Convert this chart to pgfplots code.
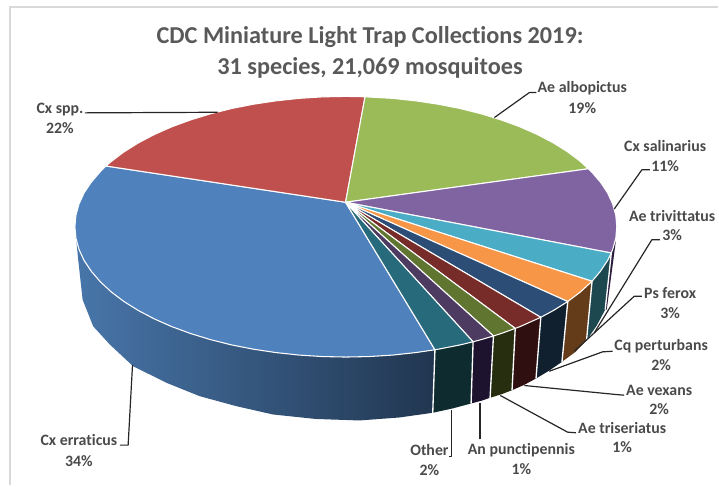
\documentclass[border=0pt]{standalone}
\usepackage{fontspec}
\setmainfont{Carlito}[Ligatures=NoCommon]
\usepackage{pgfplots}
\pgfplotsset{compat=1.18}
\definecolor{tlab}{HTML}{4A4A4A}
\definecolor{ttitle}{HTML}{595959}
\definecolor{frameC}{HTML}{D9D9D9}
\definecolor{wBlueL}{HTML}{4876AA}
\definecolor{wBlueR}{HTML}{213650}
\definecolor{wTeal}{HTML}{0E2C30}
\definecolor{wPurple}{HTML}{1D132E}
\definecolor{wOlive}{HTML}{272E10}
\definecolor{wRed}{HTML}{2F0F0F}
\definecolor{wNavy}{HTML}{11202F}
\definecolor{wOrange}{HTML}{653C1A}
\definecolor{wCyan}{HTML}{1E4850}
\definecolor{wViolet}{HTML}{2A1D3D}
\definecolor{cBlue}{HTML}{4F81BD}
\definecolor{cRed}{HTML}{C0504D}
\definecolor{cGreen}{HTML}{9BBB59}
\definecolor{cViolet}{HTML}{8064A2}
\definecolor{cCyan}{HTML}{4BACC6}
\definecolor{cOrange}{HTML}{F79646}
\definecolor{cNavy}{HTML}{2C4D75}
\definecolor{cMaroon}{HTML}{772C2A}
\definecolor{cOlive}{HTML}{5F7530}
\definecolor{cPurple}{HTML}{4D3B62}
\definecolor{cTeal}{HTML}{276A7C}
\tikzset{lab/.style={font=\bfseries\fontsize{11.9}{13}\selectfont,text=tlab,inner sep=0pt,anchor=center},
  ttl/.style={font=\bfseries\fontsize{18.2}{22}\selectfont,text=ttitle,inner sep=0pt,anchor=center},
  lead/.style={draw=black!85,line width=0.9pt,line join=round},
  top/.style={draw=white,line width=0.8pt,line join=round,fill=#1},
  wall/.style={draw=none,fill=#1},
  seam/.style={draw=white,line width=1pt}}
\begin{document}
\begin{tikzpicture}
\begin{axis}[
  scale only axis, width=539.25pt, height=364.5pt,
  xmin=0, xmax=719, ymin=0, ymax=486, y dir=reverse,
  hide axis, clip=false,
]
% page extent
\addplot[draw=none] coordinates {(0,0) (719,486)};
% chart frame
\addplot[draw=frameC,line width=1.4pt] coordinates {(10,486) (10,7) (719,7)};

% side walls of the slices
\addplot[draw=none,left color=wBlueL,right color=wBlueR] coordinates {
 (435.5,350.2)(416.5,353)(393.4,355.5)(370,357)(346.3,357.5)(322.6,357)(299.2,355.5)(276.1,353)(253.5,349.6)(231.6,345.3)(210.6,340)(190.7,333.9)(171.9,327)(154.5,319.3)(138.5,310.9)(124.1,301.9)(111.4,292.3)(100.4,282.1)(91.4,271.6)(84.2,260.8)(79.1,249.7)(76,238.4)(75,227)
 (78.3,260)(82.7,300)(93.3,326.7)(110,345)(133.3,366.7)(166.7,383.3)(200,396.7)(236.7,406.7)(273.3,415)(316,419.5)(360,421)(400,418)(433.3,413.3)};
\addplot[wall=wTeal] coordinates {(473.7,342.2)(461,345.3)(439.1,349.6)(435.5,350.2)(433.3,413.3)(453,409)(471.7,404)};
\addplot[wall=wPurple] coordinates {(494.1,336.4)(482,340)(473.7,342.2)(471.7,404)(481.5,401.4)(490.7,398.3)};
\addplot[wall=wOlive] coordinates {(515.9,328.8)(501.9,333.9)(494.1,336.4)(490.7,398.3)(502,394.8)(512.7,390.7)};
\addplot[wall=wRed] coordinates {(541.5,317.7)(520.7,327)(515.9,328.8)(512.7,390.7)(525,385.3)(536.7,379)};
\addplot[wall=wNavy] coordinates {(568.5,301.9)(554.1,310.9)(541.5,317.7)(536.7,379)(550,371)(562.7,362.3)};
\addplot[wall=wOrange] coordinates {(592.8,281.6)(581.2,292.3)(568.5,301.9)(562.7,362.3)(576,352.5)(587.3,340.7)};
\addplot[wall=wCyan] coordinates {(612.1,253.3)(608.4,260.8)(601.2,271.6)(592.8,281.6)(587.3,340.7)(597.5,326)(606,310)};
\addplot[wall=wViolet] coordinates {(616.7,241)(612.1,253.3)(606,310)(607.5,310)};
% white seams between the walls
\addplot[seam] coordinates {(435.5,350.2)(433.3,413.3)};
\addplot[seam] coordinates {(473.7,342.2)(471.7,404)};
\addplot[seam] coordinates {(494.1,336.4)(490.7,398.3)};
\addplot[seam] coordinates {(515.9,328.8)(512.7,390.7)};
\addplot[seam] coordinates {(541.5,317.7)(536.7,379)};
\addplot[seam] coordinates {(568.5,301.9)(562.7,362.3)};
\addplot[seam] coordinates {(592.8,281.6)(587.3,340.7)};
\addplot[seam] coordinates {(612.1,253.3)(606,310)};

% top faces of the slices
\addplot[top=cBlue] coordinates {(346,202.5)(435.5,350.2)(416.5,353)(393.4,355.5)(370,357)(346.3,357.5)(322.6,357)(299.2,355.5)(276.1,353)(253.5,349.6)(231.6,345.3)(210.6,340)(190.7,333.9)(171.9,327)(154.5,319.3)(138.5,310.9)(124.1,301.9)(111.4,292.3)(100.4,282.1)(91.4,271.6)(84.2,260.8)(79.1,249.7)(76,238.4)(75,227)(76,215.6)(79.1,204.3)(84.2,193.2)(91.4,182.4)(100.4,171.9)(106,166.2)(346,202.5)};
\addplot[top=cRed] coordinates {(346,202.5)(106,166.2)(111.4,161.7)(124.1,152.1)(138.5,143.1)(154.5,134.7)(171.9,127)(190.7,120.1)(210.6,114)(231.6,108.7)(253.5,104.4)(276.1,101)(299.2,98.5)(322.6,97)(346.3,96.5)(365.5,96.9)(346,202.5)};
\addplot[top=cGreen] coordinates {(346,202.5)(365.5,96.9)(393.4,98.5)(416.5,101)(439.1,104.4)(461,108.7)(482,114)(501.9,120.1)(520.7,127)(538.1,134.7)(554.1,143.1)(568.5,152.1)(581.2,161.7)(589,169)(346,202.5)};
\addplot[top=cViolet] coordinates {(346,202.5)(589,169)(592.2,171.9)(601.2,182.4)(608.4,193.2)(613.5,204.3)(616.6,215.6)(617.6,227)(616.6,238.4)(613.5,249.7)(612.1,253.3)(346,202.5)};
\addplot[top=cCyan] coordinates {(346,202.5)(612.1,253.3)(608.4,260.8)(601.2,271.6)(592.8,281.6)(346,202.5)};
\addplot[top=cOrange] coordinates {(346,202.5)(592.8,281.6)(581.2,292.3)(568.5,301.9)(346,202.5)};
\addplot[top=cNavy] coordinates {(346,202.5)(568.5,301.9)(554.1,310.9)(541.5,317.7)(346,202.5)};
\addplot[top=cMaroon] coordinates {(346,202.5)(541.5,317.7)(520.7,327)(515.9,328.8)(346,202.5)};
\addplot[top=cOlive] coordinates {(346,202.5)(515.9,328.8)(501.9,333.9)(494.1,336.4)(346,202.5)};
\addplot[top=cPurple] coordinates {(346,202.5)(494.1,336.4)(482,340)(473.7,342.2)(346,202.5)};
\addplot[top=cTeal] coordinates {(346,202.5)(473.7,342.2)(461,345.3)(439.1,349.6)(435.5,350.2)(346,202.5)};

% leader lines
\addplot[lead] coordinates {(85,113)(218,112.4)};
\addplot[lead] coordinates {(537,92.7)(530,92.7)(495,117.7)};
\addplot[lead] coordinates {(650.7,170)(642.7,170)(615,209.3)};
\addplot[lead] coordinates {(660.7,240)(652.7,240)(595,333.3)};
\addplot[lead] coordinates {(642.7,296.7)(635,296.7)(575,351.7)};
\addplot[lead] coordinates {(613.3,351.7)(603.3,352.3)(550,371.7)};
\addplot[lead] coordinates {(625,395.7)(616.7,395)(525,386)};
\addplot[lead] coordinates {(576.7,433.3)(568.3,432.7)(501,396)};
\addplot[lead] coordinates {(480.7,440)(480.7,403.3)};
\addplot[lead] coordinates {(449.3,456.7)(451.7,456.7)(451.7,410.7)};
\addplot[lead] coordinates {(120,445.7)(128.3,445.7)(132.7,365)};

% title and data labels
\node[ttl] at (axis cs:370.5,37) {CDC Miniature Light Trap Collections 2019:};
\node[ttl] at (axis cs:370.5,68) {31 species, 21,069 mosquitoes};
\node[lab] at (axis cs:60,110) {Cx spp.};
\node[lab] at (axis cs:60,128) {22\%};
\node[lab] at (axis cs:583,88) {Ae albopictus};
\node[lab] at (axis cs:583,108) {19\%};
\node[lab] at (axis cs:666,146) {Cx salinarius};
\node[lab] at (axis cs:666,166.5) {11\%};
\node[lab] at (axis cs:673,216) {Ae trivittatus};
\node[lab] at (axis cs:673,235) {3\%};
\node[lab] at (axis cs:671,293) {Ps ferox};
\node[lab] at (axis cs:671,313) {3\%};
\node[lab] at (axis cs:662,347) {Cq perturbans};
\node[lab] at (axis cs:662,366) {2\%};
\node[lab] at (axis cs:660,391) {Ae vexans};
\node[lab] at (axis cs:660,410) {2\%};
\node[lab] at (axis cs:623,429) {Ae triseriatus};
\node[lab] at (axis cs:623,448) {1\%};
\node[lab] at (axis cs:522,451) {An punctipennis};
\node[lab] at (axis cs:522,470) {1\%};
\node[lab] at (axis cs:430,451) {Other};
\node[lab] at (axis cs:430,471) {2\%};
\node[lab] at (axis cs:79,441) {Cx erraticus};
\node[lab] at (axis cs:79,461.5) {34\%};
\end{axis}
\end{tikzpicture}
\end{document}
